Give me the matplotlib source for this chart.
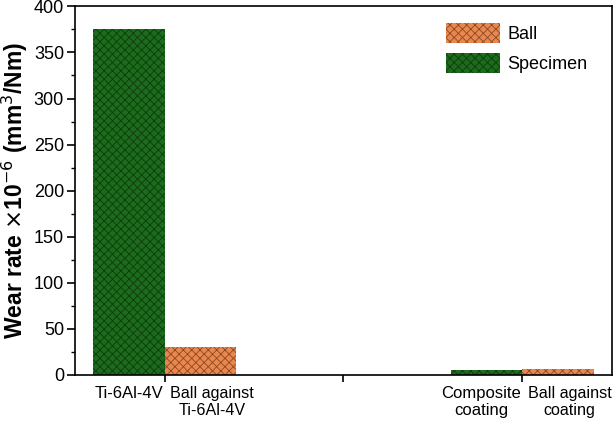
import matplotlib.pyplot as plt
import numpy as np

plt.rcParams['font.family'] = ['Liberation Sans', 'DejaVu Sans']
plt.rcParams['hatch.linewidth'] = 0.6

# 数据
left_labels = ['Ti-6Al-4V', 'Composite\ncoating']
right_labels = ['Ball against\nTi-6Al-4V', 'Ball against\ncoating']
specimen = [375, 5]
ball = [30, 6]
groups = [1, 3]

green = '#1d6b1d'
orange = '#e9874e'
width = 0.4

fig, ax = plt.subplots(figsize=(6.16, 4.26), dpi=100)

x = np.array(groups)
ax.bar(x - width / 2, specimen, width, color=green, edgecolor='#0c3d0c', hatch='xxxx',
       linewidth=0, label='Specimen')
ax.bar(x + width / 2, ball, width, color=orange, edgecolor='#8a4a22', hatch='xxxx',
       linewidth=0, label='Ball')

ax.set_xlim(0.5, 3.5)
ax.set_ylim(0, 400)
ax.set_yticks(np.arange(0, 401, 50))
ax.set_yticks(np.arange(0, 401, 25), minor=True)
ax.set_xticks([1, 2, 3])
ax.set_xticklabels([])
ax.tick_params(axis='x', which='major', length=5, width=1.2, direction='out')
ax.tick_params(axis='y', which='major', length=6, width=1.2, direction='out', labelsize=13, pad=2)
ax.tick_params(axis='y', which='minor', length=3, width=1.0, direction='out')
for s in ax.spines.values():
    s.set_linewidth(1.2)

# 类别标签：左边的右对齐到刻度，右边的左对齐
for g, lt, rt in zip(groups, left_labels, right_labels):
    ax.annotate(lt, xy=(g, 0), xycoords=('data', 'axes fraction'), xytext=(-1, -8),
                textcoords='offset points', ha='right', va='top', multialignment='center',
                fontsize=12)
    ax.annotate(rt, xy=(g, 0), xycoords=('data', 'axes fraction'), xytext=(4, -8),
                textcoords='offset points', ha='left', va='top', multialignment='center',
                fontsize=11.6)

ax.set_ylabel('Wear rate $\\times$10$^{-6}$ (mm$^3$/Nm)', fontsize=16.5, fontweight='bold', labelpad=3)

h, l = ax.get_legend_handles_labels()
ax.legend(h[::-1], l[::-1], loc='upper right', frameon=False, fontsize=13,
          handlelength=3.0, handleheight=1.4, handletextpad=0.4, labelspacing=0.5,
          borderaxespad=0.5, bbox_to_anchor=(0.985, 1.0))

fig.subplots_adjust(left=0.122, right=0.993, top=0.985, bottom=0.12)
fig.savefig('out.png', dpi=100)
